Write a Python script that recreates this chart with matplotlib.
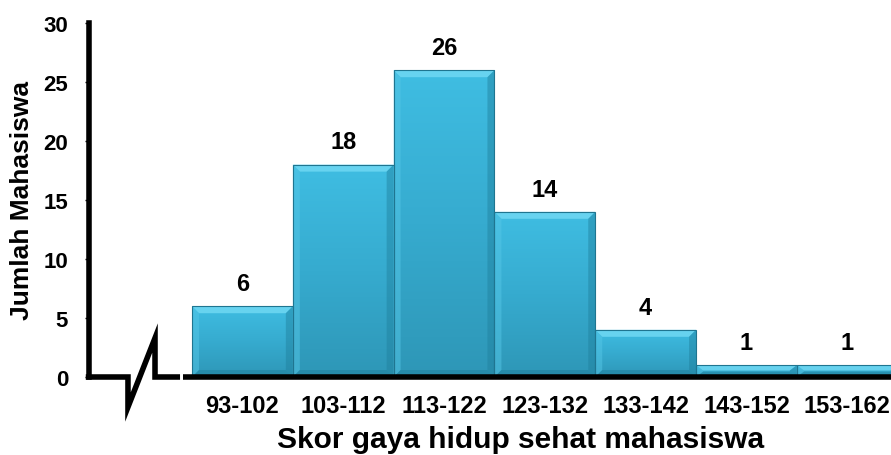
import numpy as np
import matplotlib
matplotlib.use("Agg")
import matplotlib.pyplot as plt
from matplotlib.patches import Rectangle, Polygon
from matplotlib.colors import LinearSegmentedColormap

# data histogram skor gaya hidup sehat
kelas = ["93-102", "103-112", "113-122", "123-132", "133-142", "143-152", "153-162"]
frekuensi = [6, 18, 26, 14, 4, 1, 1]
y_ticks = [0, 5, 10, 15, 20, 25, 30]

plt.rcParams['font.family'] = ['Liberation Sans', 'DejaVu Sans']
plt.rcParams['font.weight'] = 'bold'

fig = plt.figure(figsize=(8.91, 4.56), dpi=100)
ax = fig.add_axes([89 / 891, 1 - 378 / 456, 1 - 89 / 891, 354 / 456])

xmin, xmax = -1.522, 6.434
ax.set_xlim(xmin, xmax)
ax.set_ylim(0, 30)

# ukuran bevel (dalam satuan data)
px_x = (xmax - xmin) / 802
px_y = 30 / 354
bev = 7

grad = LinearSegmentedColormap.from_list("biru", ["#2e97b7", "#36abcf", "#3fbde2"])
g = np.linspace(0, 1, 64).reshape(-1, 1)

for i, v in enumerate(frekuensi):
    x0, x1 = i - 0.5, i + 0.5
    rect = Rectangle((x0, 0), 1, v, facecolor="none", edgecolor="#1f7590",
                     linewidth=0.8, zorder=4)
    ax.add_patch(rect)
    im = ax.imshow(g, cmap=grad, origin="lower", extent=(x0, x1, 0, v),
                   aspect="auto", zorder=2, interpolation="bilinear")
    im.set_clip_path(rect)
    dx = bev * px_x
    dy = min(bev * px_y, v * 0.45)
    # sisi atas, kiri, kanan, bawah
    ax.add_patch(Polygon([(x0, v), (x1, v), (x1 - dx, v - dy), (x0 + dx, v - dy)],
                         closed=True, facecolor="#6fd8f3", edgecolor="none", alpha=0.85, zorder=3))
    ax.add_patch(Polygon([(x0, 0), (x0, v), (x0 + dx, v - dy), (x0 + dx, dy)],
                         closed=True, facecolor="#55c6e6", edgecolor="none", alpha=0.5, zorder=3))
    ax.add_patch(Polygon([(x1, 0), (x1, v), (x1 - dx, v - dy), (x1 - dx, dy)],
                         closed=True, facecolor="#1f7f9c", edgecolor="none", alpha=0.45, zorder=3))
    ax.add_patch(Polygon([(x0, 0), (x1, 0), (x1 - dx, dy), (x0 + dx, dy)],
                         closed=True, facecolor="#1f7f9c", edgecolor="none", alpha=0.5, zorder=3))
    ax.annotate(str(v), (i, v), xytext=(0, 8), textcoords="offset points",
                ha="center", va="bottom", fontsize=17, fontweight="bold")

ax.set_xticks(range(len(kelas)))
ax.set_xticklabels(kelas, fontsize=17, fontweight="bold")
ax.set_yticks(y_ticks)
ax.set_yticklabels([str(t) for t in y_ticks], fontsize=16, fontweight="bold")
ax.tick_params(axis="x", length=0, pad=12.5)
ax.tick_params(axis="y", length=3, width=1, direction="out", pad=12)

for s in ["top", "right", "bottom"]:
    ax.spines[s].set_visible(False)
ax.spines["left"].set_linewidth(4)
ax.spines["left"].set_zorder(6)

# sumbu x dengan tanda patah
lw = 4
tr = ax.transAxes
ax.plot([-0.004, 0.0486, 0.0486, 0.0823, 0.0823, 0.1135],
        [0, 0, -0.0847, 0.110, 0, 0], transform=tr, color="black",
        linewidth=lw, clip_on=False, zorder=6, solid_joinstyle="miter", solid_capstyle="butt")
ax.plot([0.117, 1.0], [0, 0], transform=tr, color="black", linewidth=lw,
        clip_on=False, zorder=6, solid_capstyle="butt")

ax.set_xlabel("Skor gaya hidup sehat mahasiswa", fontsize=21.5, fontweight="bold")
ax.xaxis.set_label_coords(0.5387, -0.1977)
ax.xaxis.label.set_va("baseline")
ax.set_ylabel("Jumlah Mahasiswa", fontsize=19, fontweight="bold")
ax.yaxis.set_label_coords(-0.0835, 0.5)
ax.yaxis.label.set_va("center")

fig.savefig("out.png", dpi=100)
